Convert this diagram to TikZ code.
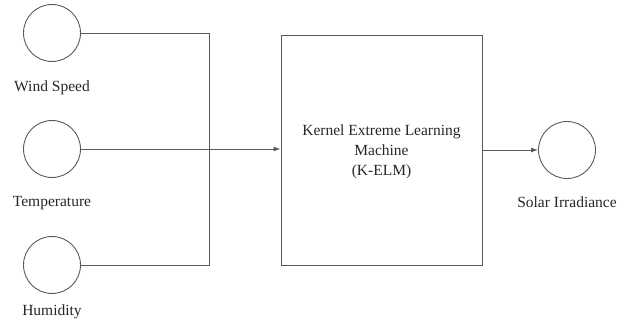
\documentclass[tikz,border=0pt]{standalone}
\usepackage{fontspec}
\setmainfont{Liberation Serif}
\usetikzlibrary{arrows.meta}
\begin{document}
\begin{tikzpicture}[x=1pt,y=-1pt,
  ln/.style={draw=black!65,line width=0.9pt},
  inp/.style={ln,circle,minimum size=57pt,inner sep=0pt},
  lbl/.style={font=\fontsize{15.5}{20}\selectfont,text=black!85,inner sep=0pt},
  arr/.style={ln,-{Latex[length=7pt,width=5pt]}}]
\useasboundingbox (0,0) rectangle (631,326);
\node[inp] (ws) at (52,33) {};
\node[inp] (tp) at (52,149) {};
\node[inp] (hu) at (52,265) {};
\node[lbl] at (52,88) {Wind Speed};
\node[lbl] at (52,203) {Temperature};
\node[lbl] at (52,312) {Humidity};
\coordinate (jt) at (209,33);
\coordinate (jm) at (209,149);
\coordinate (jb) at (209,265);
\node[ln,minimum width=201pt,minimum height=230pt,inner sep=0pt] (km) at (381.5,150) {};
\node[lbl,align=center] at (381.5,152) {Kernel Extreme Learning\\Machine\\(K-ELM)};
\node[inp] (so) at (567,150) {};
\node[lbl] at (567,202) {Solar Irradiance};
\draw[ln] (ws.east) -- (jt) -- (jb) -- (hu.east);
\draw[arr] (tp.east) -- (tp.east -| km.west);
\draw[arr] (km.east |- so.west) -- (so.west);
\end{tikzpicture}
\end{document}
